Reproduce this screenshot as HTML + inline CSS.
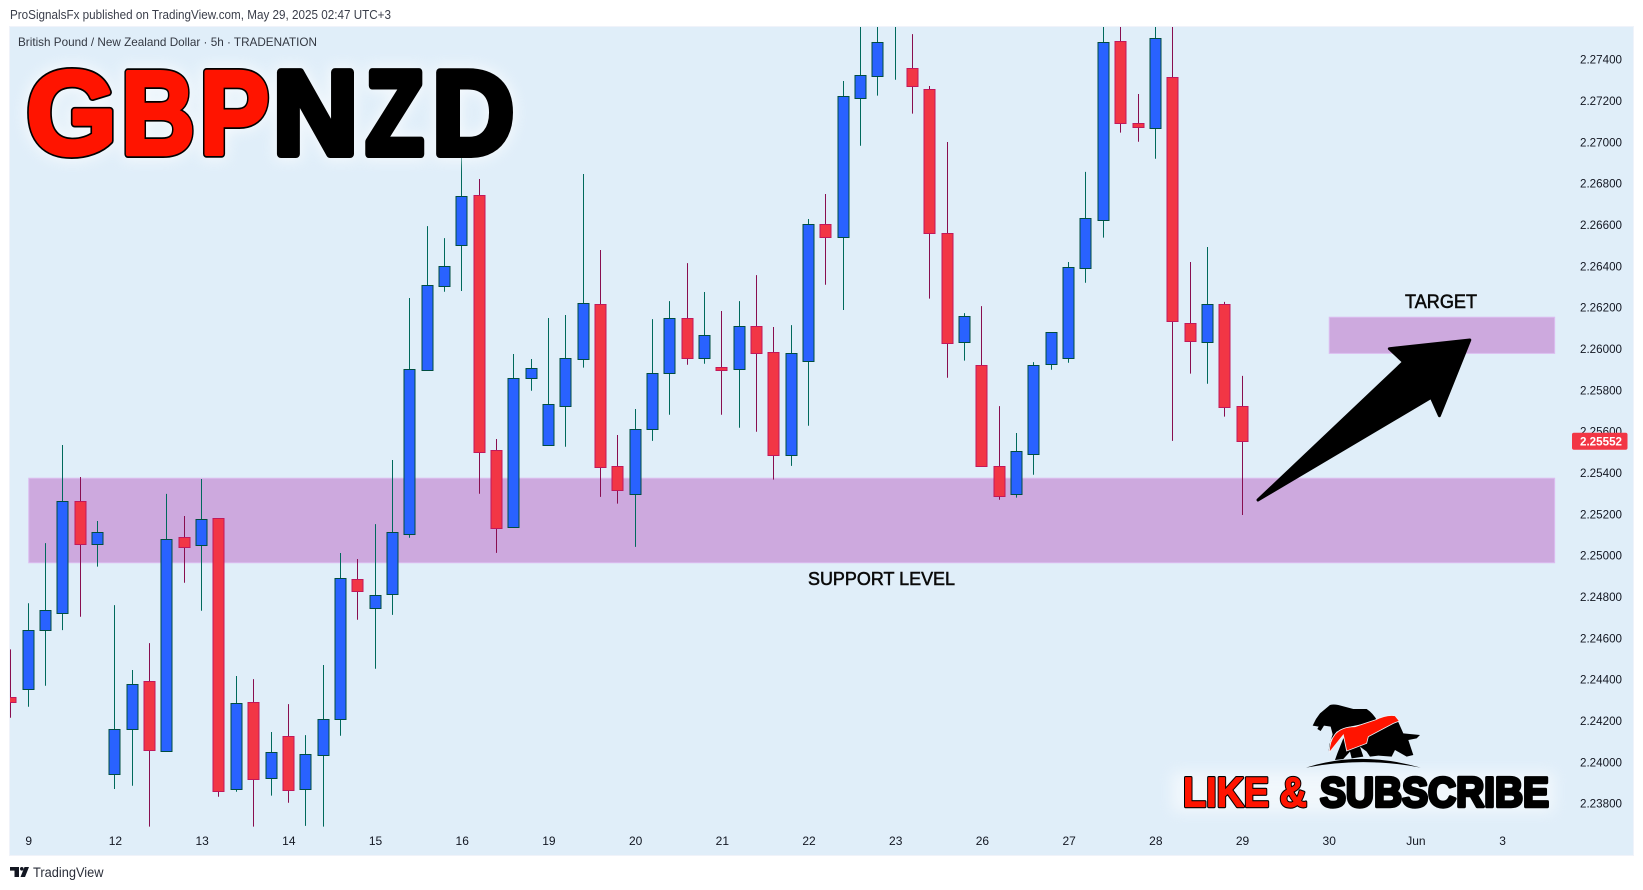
<!DOCTYPE html>
<html lang="en">
<head>
<meta charset="utf-8">
<title>GBPNZD chart</title>
<style>
html,body{margin:0;padding:0;background:#fff;width:1643px;height:890px;overflow:hidden}
svg{display:block}
text{font-family:"Liberation Sans",sans-serif}
</style>
</head>
<body>
<svg id="root" xmlns="http://www.w3.org/2000/svg" width="1643" height="890" viewBox="0 0 1643 890">
  <defs>
    <clipPath id="plot-clip"><rect x="10" y="27" width="1623" height="828"/></clipPath>
    <filter id="glow" x="-20%" y="-30%" width="140%" height="160%"><feGaussianBlur stdDeviation="7"/></filter>
  </defs>

  <text x="10" y="19" font-size="12.5" fill="#3a3e4a" textLength="381" lengthAdjust="spacingAndGlyphs">ProSignalsFx published on TradingView.com, May 29, 2025 02:47 UTC+3</text>

  <rect x="9" y="26" width="1625" height="830" fill="#f0f3fa"/>
  <rect x="10" y="27" width="1623" height="828" fill="#e0eef9"/>

  <text x="18" y="46" font-size="12" fill="#333842" textLength="299" lengthAdjust="spacingAndGlyphs">British Pound / New Zealand Dollar · 5h · TRADENATION</text>

  <g id="zones"></g>
  <g id="candles" clip-path="url(#plot-clip)"></g>
  <g id="y-axis"></g>
  <g id="x-axis"></g>

  <text x="808" y="585" font-size="18.5" fill="#0a0a0a" stroke="#0a0a0a" stroke-width=".55" textLength="147" lengthAdjust="spacingAndGlyphs">SUPPORT LEVEL</text>
  <text x="1405" y="308" font-size="19" fill="#0a0a0a" stroke="#0a0a0a" stroke-width=".55" textLength="72" lengthAdjust="spacingAndGlyphs">TARGET</text>

  <polygon points="1258,500 1403.7,362 1389.4,348.7 1469.8,340 1439.4,415.7 1431.2,397.3" fill="#000" stroke="#000" stroke-width="3" stroke-linejoin="round"/>

  <g>
    <text y="154" font-size="119" font-weight="700" fill="#fff" stroke="#fff" stroke-width="12" opacity=".7" filter="url(#glow)"><tspan x="26.2" textLength="90.7" lengthAdjust="spacingAndGlyphs">G</tspan><tspan x="121" textLength="73.9" lengthAdjust="spacingAndGlyphs">B</tspan><tspan x="199.5" textLength="69.8" lengthAdjust="spacingAndGlyphs">P</tspan><tspan x="273" textLength="85" lengthAdjust="spacingAndGlyphs">N</tspan><tspan x="365.6" textLength="58.2" lengthAdjust="spacingAndGlyphs">Z</tspan><tspan x="432.4" textLength="81.6" lengthAdjust="spacingAndGlyphs">D</tspan></text>
    <text y="154" font-size="119" font-weight="700" fill="#000" stroke="#000" stroke-width="8" stroke-linejoin="round"><tspan x="26.2" textLength="90.7" lengthAdjust="spacingAndGlyphs">G</tspan><tspan x="121" textLength="73.9" lengthAdjust="spacingAndGlyphs">B</tspan><tspan x="199.5" textLength="69.8" lengthAdjust="spacingAndGlyphs">P</tspan><tspan x="273" textLength="85" lengthAdjust="spacingAndGlyphs">N</tspan><tspan x="365.6" textLength="58.2" lengthAdjust="spacingAndGlyphs">Z</tspan><tspan x="432.4" textLength="81.6" lengthAdjust="spacingAndGlyphs">D</tspan></text>
    <text y="154" font-size="119" font-weight="700" fill="#ff1400" stroke="#ff1400" stroke-width="4.6" stroke-linejoin="round"><tspan x="26.2" textLength="90.7" lengthAdjust="spacingAndGlyphs">G</tspan><tspan x="121" textLength="73.9" lengthAdjust="spacingAndGlyphs">B</tspan><tspan x="199.5" textLength="69.8" lengthAdjust="spacingAndGlyphs">P</tspan></text>
  </g>

  <g>
    <rect x="1172" y="772" width="382" height="40" fill="#fff" opacity=".55" filter="url(#glow)"/>
    <g transform="translate(1300,695) scale(.3333)">
      <path d="M38,92 L48,72 L60,55 L90,30 Q100,27 115,30 L160,42 L200,42 Q220,55 232,78 L150,95 L110,110 L92,135 L86,170 L88,150 L98,118 L92,95 L72,92 L62,108 L52,102 L56,95 Z" fill="#000"/>
      <path d="M105,195 L112,175 L130,130 L290,70 L310,115 L360,120 L350,130 L325,135 L340,180 L320,185 L285,165 L275,185 L235,182 L210,185 L200,170 L180,155 L190,185 L155,190 L150,170 L130,192 Z" fill="#000"/>
      <path d="M88,172 Q88,140 105,118 Q125,95 165,95 L225,75 Q260,58 285,62 L298,78 L280,85 L205,125 L200,145 L140,168 L130,120 Z" fill="#ff1400" stroke="#eef3f8" stroke-width="2.5"/>
      <path d="M18,218 Q180,165 362,218 Q190,185 18,218 Z" fill="#000"/>
    </g>
    <text x="1183" y="806.5" font-size="42" font-weight="700" fill="#000" stroke="#000" stroke-width="3.4" stroke-linejoin="round" textLength="124" lengthAdjust="spacingAndGlyphs">LIKE &amp;</text>
    <text x="1183" y="806.5" font-size="42" font-weight="700" fill="#ff1400" stroke="#ff1400" stroke-width="1.2" stroke-linejoin="round" textLength="124" lengthAdjust="spacingAndGlyphs">LIKE &amp;</text>
    <text x="1320" y="806.5" font-size="42" font-weight="700" fill="#000" stroke="#000" stroke-width="3.4" stroke-linejoin="round" textLength="229" lengthAdjust="spacingAndGlyphs">SUBSCRIBE</text>
  </g>

  <g>
    <path d="M10,867 H19 V877 H14.5 V870.6 H10 Z" fill="#131722"/>
    <circle cx="21.8" cy="868.8" r="1.8" fill="#131722"/>
    <path d="M24.5,867 H29 L25,877 H20.5 Z" fill="#131722"/>
    <text x="33" y="877" font-size="13.5" fill="#2a2e39" textLength="70.5" lengthAdjust="spacingAndGlyphs">TradingView</text>
  </g>

  <g id="price-tag"></g>
</svg>

<script>
var openPrices = [2.24313,2.24351,2.24640,2.24722,2.25261,2.25056,2.23943,2.24161,2.24390,2.24054,2.25087,2.25051,2.25179,2.23871,2.24289,2.23924,2.24124,2.23871,2.24032,2.24206,2.24884,2.24743,2.24814,2.25104,2.25898,2.26304,2.26503,2.26742,2.25508,2.25138,2.25859,2.25535,2.25724,2.25951,2.26214,2.25431,2.25298,2.25613,2.25884,2.26147,2.25956,2.25910,2.25903,2.26108,2.25982,2.25487,2.25942,2.26602,2.26542,2.27214,2.27321,2.27356,2.27356,2.27255,2.26558,2.26031,2.25919,2.25431,2.25295,2.25492,2.25924,2.25956,2.26389,2.26624,2.27487,2.27090,2.27066,2.27313,2.26123,2.26034,2.26214,2.25721];
var highPrices = [2.24545,2.24768,2.25059,2.25534,2.25379,2.25166,2.24759,2.24445,2.24575,2.25297,2.25190,2.25369,2.25179,2.24416,2.24401,2.24145,2.24280,2.24130,2.24469,2.25011,2.24982,2.25151,2.25461,2.26245,2.26593,2.26535,2.26956,2.26821,2.25563,2.25974,2.25950,2.26148,2.26163,2.26845,2.26477,2.25582,2.25708,2.26143,2.26230,2.26414,2.26274,2.26182,2.26230,2.26356,2.26105,2.26114,2.26627,2.26748,2.27295,2.27620,2.27600,2.27580,2.27522,2.27271,2.27000,2.26172,2.26206,2.25722,2.25592,2.25935,2.26079,2.26419,2.26855,2.27680,2.27650,2.27232,2.27640,2.27600,2.26419,2.26492,2.26226,2.25868];
var lowPrices = [2.24214,2.24267,2.24369,2.24638,2.24703,2.24945,2.23869,2.23885,2.23687,2.24054,2.24867,2.24732,2.23832,2.23856,2.23687,2.23837,2.23803,2.23691,2.23687,2.24127,2.24688,2.24451,2.24712,2.25085,2.25898,2.26275,2.26279,2.25298,2.25012,2.25133,2.25796,2.25535,2.25525,2.25908,2.25283,2.25250,2.25041,2.25554,2.25680,2.25922,2.25927,2.25680,2.25617,2.25598,2.25366,2.25433,2.25627,2.26309,2.26187,2.26982,2.27224,2.27301,2.27137,2.26242,2.25859,2.25942,2.25433,2.25269,2.25279,2.25390,2.25898,2.25932,2.26319,2.26537,2.27045,2.27001,2.26919,2.25554,2.25879,2.25830,2.25671,2.25195];
var closePrices = [2.24291,2.24637,2.24734,2.25261,2.25056,2.25111,2.24158,2.24376,2.24059,2.25077,2.25041,2.25174,2.23861,2.24284,2.23919,2.24047,2.23866,2.24037,2.24206,2.24889,2.24829,2.24806,2.25111,2.25900,2.26306,2.26398,2.26737,2.25501,2.25133,2.25856,2.25905,2.25731,2.25953,2.26219,2.25429,2.25317,2.25610,2.25881,2.26147,2.25956,2.26064,2.25898,2.26108,2.25980,2.25487,2.25977,2.26602,2.26542,2.27221,2.27323,2.27482,2.27356,2.27272,2.26561,2.26026,2.26156,2.25433,2.25288,2.25503,2.25919,2.26079,2.26394,2.26631,2.27482,2.27093,2.27074,2.27502,2.26135,2.26038,2.26214,2.25719,2.25552];
var priceTicks = ["2.27400","2.27200","2.27000","2.26800","2.26600","2.26400","2.26200","2.26000","2.25800","2.25600","2.25400","2.25200","2.25000","2.24800","2.24600","2.24400","2.24200","2.24000","2.23800"];
var timeTickLabels = ["9","12","13","14","15","16","19","20","21","22","23","26","27","28","29","30","Jun","3"];
var timeTickBars = [1,6,11,16,21,26,31,36,41,46,51,56,61,66,71,76,81,86];
var zoneNames = ["support-zone","target-zone"];
var zoneTop = [2.25373,2.26152];
var zoneBottom = [2.24964,2.25977];
var zoneStartBar = [1,76];
var zoneEndBar = [89,89];
var lastPrice = 2.25552;

var SVGNS = "http://www.w3.org/2000/svg";
function xAt(bar){ return 11.4 + bar * 17.34; }
function yAt(price){ return 59.3 + (2.274 - price) * 20667; }
function make(tag, attrs, parent){
  var el = document.createElementNS(SVGNS, tag);
  for (var k in attrs) el.setAttribute(k, attrs[k]);
  parent.appendChild(el);
  return el;
}

var zonesGroup = document.getElementById("zones");
zoneNames.forEach(function(name, i){
  var left = xAt(zoneStartBar[i]);
  var top = yAt(zoneTop[i]);
  var el = make("rect", {x:left, y:top, width:xAt(zoneEndBar[i]) - left, height:yAt(zoneBottom[i]) - top, fill:"#cda9de", stroke:"#dcbdf0", "stroke-width":1}, zonesGroup);
  
  
});

var candlesGroup = document.getElementById("candles");
openPrices.forEach(function(openValue, i){
  var closeValue = closePrices[i];
  var up = closeValue >= openValue;
  var cx = Math.round(xAt(i)) - 0.5;
  var wickLine = make("line", {x1:cx, x2:cx, y1:yAt(highPrices[i]), y2:yAt(lowPrices[i]), stroke: up ? "#00695c" : "#880e4f", "stroke-width":1}, candlesGroup);
  
  
  var top = yAt(Math.max(openValue, closeValue));
  var bottom = yAt(Math.min(openValue, closeValue));
  var body = make("rect", {x:cx - 5.5, y:Math.round(top) + 0.5, width:11, height:Math.max(0, Math.round(bottom) - Math.round(top)), fill: up ? "#2962ff" : "#f23645", stroke: up ? "#004d40" : "#c2185b", "stroke-width":1}, candlesGroup);
  
  
});

var yAxisGroup = document.getElementById("y-axis");
priceTicks.forEach(function(label){
  var t = make("text", {x:1580, y:yAt(parseFloat(label)) + 4.3, "font-size":12, fill:"#131722", textLength:42, lengthAdjust:"spacingAndGlyphs"}, yAxisGroup);
  t.textContent = label;
  
  
});

var xAxisGroup = document.getElementById("x-axis");
timeTickLabels.forEach(function(label, i){
  var t = make("text", {x:xAt(timeTickBars[i]), y:845, "font-size":12, fill:"#131722", "text-anchor":"middle"}, xAxisGroup);
  t.textContent = label;
  
  
});

var tagGroup = document.getElementById("price-tag");
var tagY = yAt(lastPrice);
var tagBox = make("rect", {x:1572, y:tagY - 8.5, width:55.5, height:17, rx:2, fill:"#f23645"}, tagGroup);


var tagText = make("text", {x:1580, y:tagY + 4.3, "font-size":12, "font-weight":700, fill:"#fff", textLength:42, lengthAdjust:"spacingAndGlyphs"}, tagGroup);
tagText.textContent = lastPrice.toFixed(5);


</script>
</body>
</html>
